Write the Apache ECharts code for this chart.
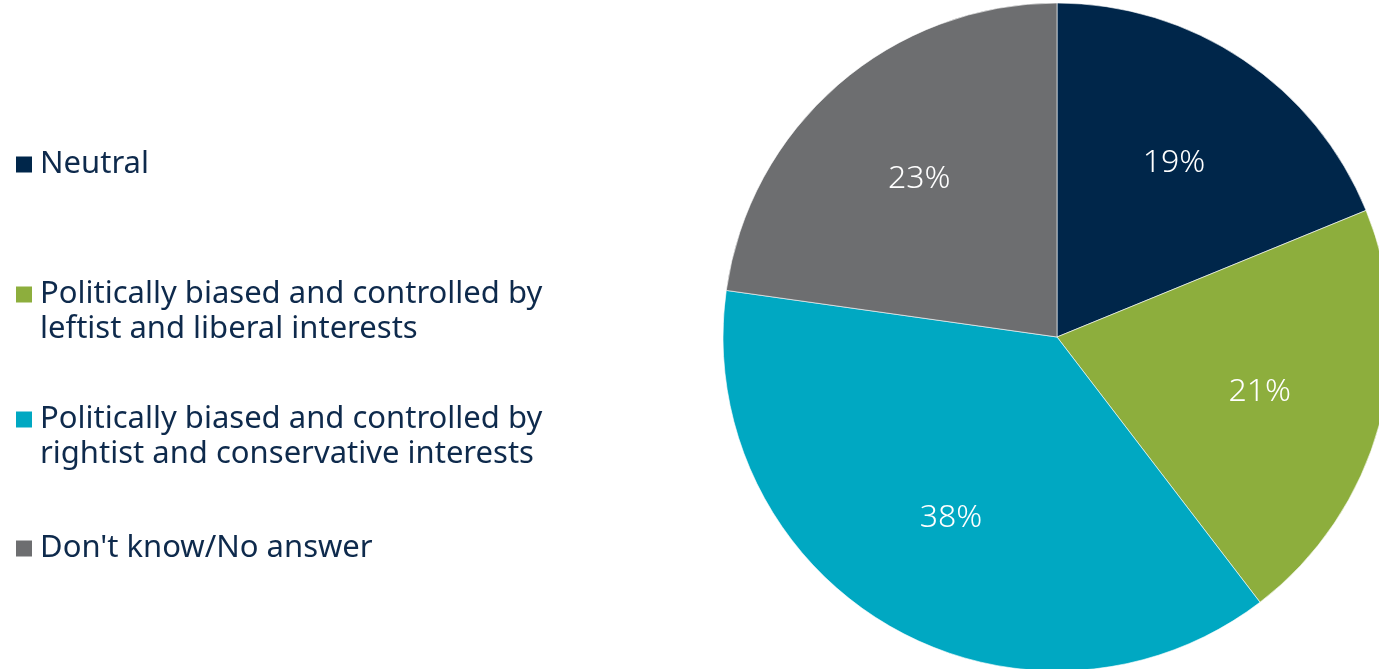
<!DOCTYPE html>
<html>
<head>
<meta charset="utf-8">
<script src="https://cdn.jsdelivr.net/npm/echarts@6/dist/echarts.min.js"></script>
<style>
html,body{margin:0;padding:0;background:#fff;}
#chart{width:1379px;height:669px;}
</style>
</head>
<body>
<div id="chart"></div>
<script>
const categories = [
  'Neutral',
  'Politically biased and controlled by\nleftist and liberal interests',
  'Politically biased and controlled by\nrightist and conservative interests',
  "Don't know/No answer"
];
const values = [19, 21, 38, 23];
const colors = ['#00264A', '#8DAE3D', '#00A8C2', '#6D6E70'];
const legendTops = [147, 277, 402, 531];

const textColor = '#0E2A4C';
const fontFamily = '"Noto Sans", "DejaVu Sans", sans-serif';

const rich = {
  ind: { width: 16, height: 16 },
  t: { fontSize: 31, color: textColor, fontFamily: fontFamily, lineHeight: 35, padding: [0, 0, 0, 8] }
};
colors.forEach((c, i) => { rich['sq' + i] = { width: 16, height: 16, backgroundColor: c }; });

const legends = categories.map((name, i) => ({
  data: [name],
  left: 11,
  top: legendTops[i],
  padding: 0,
  orient: 'vertical',
  icon: 'none',
  itemWidth: 0,
  itemHeight: 16,
  formatter: function (n) {
    const lines = n.split('\n');
    return lines.map((l, j) => (j === 0 ? '{sq' + i + '|}' : '{ind|}') + '{t|' + l + '}').join('\n');
  },
  textStyle: { rich: rich, lineHeight: 35 }
}));

const pieData = categories.map((name, i) => ({ name: name, value: values[i], itemStyle: { color: colors[i] } }));

const chart = echarts.init(document.getElementById('chart'), null, { renderer: 'canvas' });
chart.setOption({
  animation: false,
  backgroundColor: '#ffffff',
  legend: legends,
  series: [
    {
      type: 'pie',
      center: [1057, 337],
      radius: 334,
      startAngle: 90,
      clockwise: true,
      data: pieData,
      label: { show: false },
      labelLine: { show: false },
      itemStyle: { borderColor: 'rgba(255,255,255,0.6)', borderWidth: 1 },
      emphasis: { disabled: true }
    },
    {
      type: 'pie',
      center: [1057, 337],
      radius: [80, 334],
      startAngle: 90,
      clockwise: true,
      silent: true,
      data: pieData.map(d => ({ name: d.name, value: d.value, itemStyle: { color: 'rgba(0,0,0,0)' } })),
      itemStyle: { borderWidth: 0 },
      label: {
        show: true,
        position: 'inside',
        formatter: '{c}%',
        color: '#ffffff',
        fontSize: 32,
        fontFamily: fontFamily,
        fontWeight: 300
      },
      labelLine: { show: false },
      emphasis: { disabled: true }
    }
  ]
});
</script>
</body>
</html>
